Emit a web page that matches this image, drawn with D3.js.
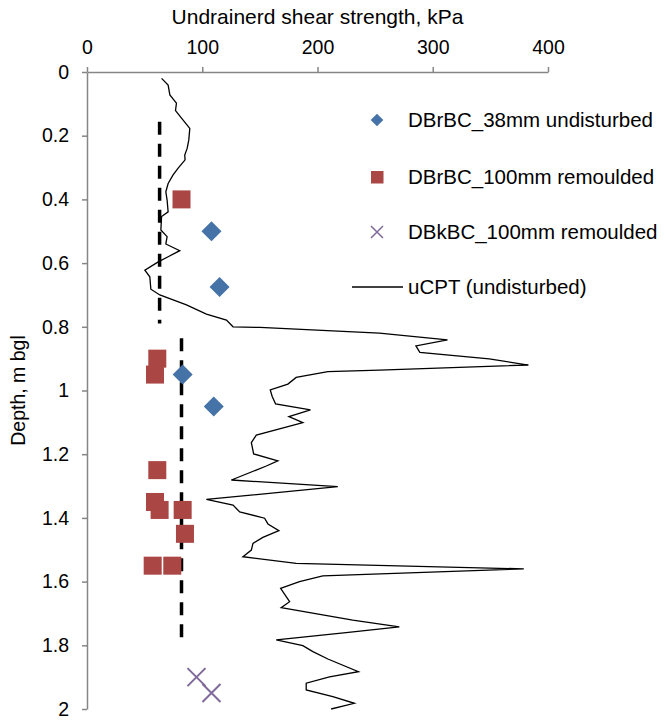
<!DOCTYPE html>
<html>
<head>
<meta charset="utf-8">
<script src="https://cdn.jsdelivr.net/npm/d3@7"></script>
<style>
  body { margin: 0; background: #fff; }
  text { font-family: "Liberation Sans", Arial, sans-serif; }
</style>
</head>
<body>
<div id="chart"></div>
<script>
// data: depth in m, strength in kPa
var cptDepth = [0.02,0.041,0.072,0.098,0.121,0.145,0.177,0.214,0.24,0.261,0.276,0.302,0.323,0.35,0.376,0.402,0.439,0.454,0.496,0.517,0.54,0.561,0.58,0.596,0.622,0.643,0.682,0.70,0.731,0.76,0.779,0.80,0.802,0.82,0.841,0.86,0.88,0.901,0.92,0.936,0.941,0.959,0.98,0.998,1.019,1.042,1.061,1.082,1.101,1.14,1.164,1.199,1.221,1.237,1.281,1.302,1.342,1.36,1.381,1.401,1.419,1.44,1.461,1.48,1.501,1.522,1.543,1.56,1.582,1.60,1.621,1.663,1.682,1.721,1.742,1.76,1.783,1.801,1.82,1.843,1.883,1.899,1.919,1.94,1.961,1.982,2.0];
var cptSu = [64.7,70.4,71.9,77.6,76.8,82,89.2,88.3,86.9,84.8,85.1,79.1,74.7,70.4,68.4,69.5,70.4,64.7,64.1,69.5,68.4,80.5,70.4,61.8,50.2,54.5,55.4,63.2,86.3,103.6,121,126.7,150,253.7,312.8,285.4,288.8,349,383,253.7,209,181.5,174.3,159,160.7,163.6,193.9,175.2,187.3,146.9,142.6,144.6,165.6,155.6,125.3,217.6,103.6,126.7,132.5,154.1,157,166.5,152.6,144,142.6,135.3,181.5,379,204.6,184.4,168,175.8,168.5,230.6,271,224.8,164.2,187.3,196,209,235.5,210.4,190.2,190.2,213.3,232,211.8];

var undistDepth = [0.5, 0.675, 0.95, 1.05];
var undistSu = [108, 115, 83, 110];

var remDepth = [0.40, 0.90, 0.95, 1.25, 1.35, 1.375, 1.375, 1.45, 1.55, 1.55];
var remSu = [82, 61, 59, 61, 59, 63, 83, 85, 57, 74];

var bkDepth = [1.90, 1.95];
var bkSu = [95, 108];

// dashed design lines
var dash1Depth = [0.156, 0.79], dash1Su = [63, 63];
var dash2Depth = [0.836, 1.785], dash2Su = [82, 82];

var xTicks = [0, 100, 200, 300, 400];
var yTicks = [0, 0.2, 0.4, 0.6, 0.8, 1, 1.2, 1.4, 1.6, 1.8, 2];

var legendNames = ["DBrBC_38mm undisturbed", "DBrBC_100mm remoulded", "DBkBC_100mm remoulded", "uCPT (undisturbed)"];

var W = 669, H = 723;
var margin = {top: 72, right: 121, bottom: 14, left: 87};

var svg = d3.select("#chart").append("svg")
  .attr("width", W).attr("height", H);

var x = d3.scaleLinear().domain([0, 400]).range([margin.left, W - margin.right]);
var y = d3.scaleLinear().domain([0, 2]).range([margin.top, H - margin.bottom]);

var axisCol = "#868686";

// top axis
var gx = svg.append("g")
  .attr("transform", "translate(0," + margin.top + ")")
  .call(d3.axisTop(x).tickValues(xTicks).tickSize(5).tickSizeOuter(0).tickPadding(13));
// left axis
var gy = svg.append("g")
  .attr("transform", "translate(" + margin.left + ",0)")
  .call(d3.axisLeft(y).tickValues(yTicks).tickSize(5).tickSizeOuter(0).tickPadding(13)
    .tickFormat(function(d) { return d3.format("")(d); }));

[gx, gy].forEach(function(g) {
  g.select(".domain").attr("stroke", axisCol).attr("stroke-width", 1.5);
  g.selectAll(".tick line").attr("stroke", axisCol).attr("stroke-width", 1.5);
  g.selectAll("text").attr("fill", "#000").attr("font-size", 19.5)
    .attr("font-family", "Liberation Sans, Arial, sans-serif");
});

// axis titles
svg.append("text")
  .attr("x", (x(0) + x(400)) / 2).attr("y", 24)
  .attr("text-anchor", "middle").attr("font-size", 21)
  .text("Undrainerd shear strength, kPa");
svg.append("text")
  .attr("transform", "translate(25," + (y(0) + y(2)) / 2 + ") rotate(-90)")
  .attr("text-anchor", "middle").attr("font-size", 19.5)
  .text("Depth, m bgl");

// dashed lines
var line = d3.line().x(function(d) { return x(d[1]); }).y(function(d) { return y(d[0]); });
[[dash1Depth, dash1Su], [dash2Depth, dash2Su]].forEach(function(s) {
  svg.append("path")
    .datum(d3.zip(s[0], s[1]))
    .attr("d", line)
    .attr("fill", "none").attr("stroke", "#000")
    .attr("stroke-width", 3.5).attr("stroke-dasharray", "13,9");
});

// CPT trace
svg.append("path")
  .datum(d3.zip(cptDepth, cptSu))
  .attr("d", line)
  .attr("fill", "none").attr("stroke", "#000").attr("stroke-width", 1.3)
  .attr("stroke-linejoin", "miter");

var blue = "#4572A7", red = "#AA4643", purple = "#80699B";

// remoulded squares
svg.append("g").selectAll("rect")
  .data(d3.zip(remDepth, remSu))
  .join("rect")
    .attr("x", function(d) { return x(d[1]) - 9; })
    .attr("y", function(d) { return y(d[0]) - 9; })
    .attr("width", 18).attr("height", 18)
    .attr("fill", red);

// undisturbed diamonds
var diamond = d3.symbol().type(d3.symbolSquare).size(200);
svg.append("g").selectAll("path")
  .data(d3.zip(undistDepth, undistSu))
  .join("path")
    .attr("d", diamond)
    .attr("transform", function(d) { return "translate(" + x(d[1]) + "," + y(d[0]) + ") rotate(45)"; })
    .attr("fill", blue);

// crosses
svg.append("g").selectAll("path")
  .data(d3.zip(bkDepth, bkSu))
  .join("path")
    .attr("d", "M-9,-9L9,9M-9,9L9,-9")
    .attr("transform", function(d) { return "translate(" + x(d[1]) + "," + y(d[0]) + ")"; })
    .attr("fill", "none").attr("stroke", purple).attr("stroke-width", 2);

// legend
var lg = svg.append("g");
var ly = [120, 177, 232, 287];
lg.append("path").attr("d", d3.symbol().type(d3.symbolSquare).size(80))
  .attr("transform", "translate(377," + ly[0] + ") rotate(45)").attr("fill", blue);
lg.append("rect").attr("x", 371).attr("y", ly[1] - 6).attr("width", 12.5).attr("height", 12.5).attr("fill", red);
lg.append("path").attr("d", "M-6,-6L6,6M-6,6L6,-6")
  .attr("transform", "translate(377," + ly[2] + ")")
  .attr("stroke", purple).attr("stroke-width", 1.5).attr("fill", "none");
lg.append("line").attr("x1", 352).attr("x2", 403).attr("y1", ly[3]).attr("y2", ly[3])
  .attr("stroke", "#000").attr("stroke-width", 1.3);
lg.selectAll("text").data(legendNames).join("text")
  .attr("x", 408).attr("y", function(d, i) { return ly[i]; })
  .attr("dy", "0.35em").attr("font-size", 20.5)
  .text(function(d) { return d; });
</script>
</body>
</html>
